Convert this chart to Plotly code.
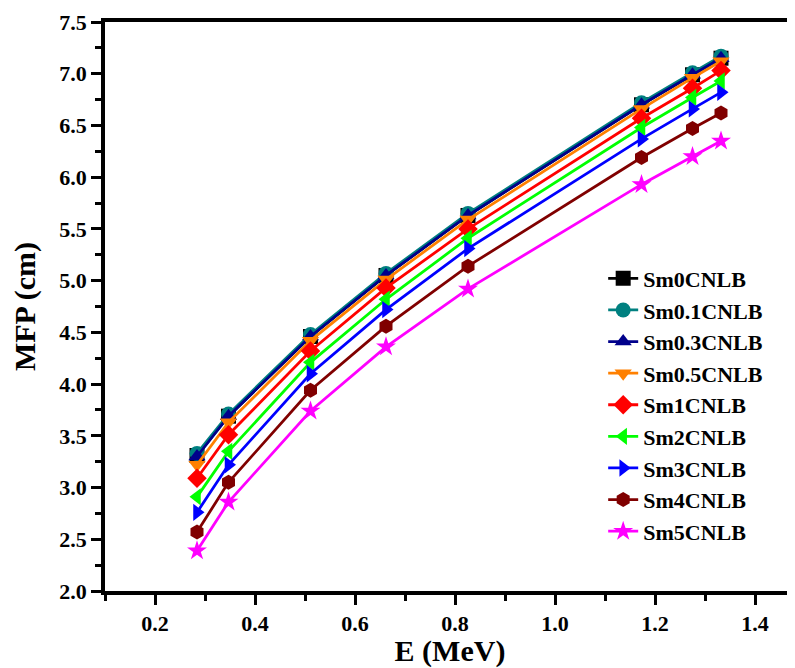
import plotly.graph_objects as go

energy = [0.284, 0.347, 0.511, 0.662, 0.826, 1.173, 1.275, 1.332]

names = ["Sm0CNLB", "Sm0.1CNLB", "Sm0.3CNLB", "Sm0.5CNLB", "Sm1CNLB",
         "Sm2CNLB", "Sm3CNLB", "Sm4CNLB", "Sm5CNLB"]

sm0 = [3.31, 3.69, 4.46, 5.05, 5.63, 6.70, 6.99, 7.15]
sm01 = [3.33, 3.71, 4.48, 5.07, 5.65, 6.72, 7.01, 7.17]
sm03 = [3.30, 3.69, 4.46, 5.05, 5.63, 6.70, 6.99, 7.15]
sm05 = [3.22, 3.63, 4.42, 5.01, 5.59, 6.66, 6.96, 7.12]
sm1 = [3.09, 3.51, 4.32, 4.93, 5.50, 6.57, 6.86, 7.03]
sm2 = [2.91, 3.35, 4.21, 4.82, 5.41, 6.48, 6.77, 6.93]
sm3 = [2.76, 3.22, 4.10, 4.72, 5.31, 6.37, 6.66, 6.82]
sm4 = [2.57, 3.05, 3.94, 4.56, 5.14, 6.19, 6.47, 6.62]
sm5 = [2.39, 2.86, 3.74, 4.36, 4.92, 5.93, 6.20, 6.35]

series = [sm0, sm01, sm03, sm05, sm1, sm2, sm3, sm4, sm5]
colors = ["#000000", "#008080", "#00008B", "#FF8000", "#FF0000",
          "#00FF00", "#0000FF", "#800000", "#FF00FF"]
symbols = ["square", "circle", "triangle-up", "triangle-down", "diamond",
           "triangle-left", "triangle-right", "hexagon", "star"]

font_family = "Liberation Serif"

fig = go.Figure()
for name, vals, c, s in zip(names, series, colors, symbols):
    fig.add_trace(go.Scatter(
        x=energy, y=vals, name=name, mode="lines+markers",
        line=dict(color=c, width=2.8),
        marker=dict(symbol=s, color=c, size=15, line=dict(width=0)),
    ))

fig.update_layout(
    width=787, height=660,
    margin=dict(l=97, r=0, t=14, b=77),
    paper_bgcolor="white", plot_bgcolor="white",
    font=dict(family=font_family, color="black"),
    showlegend=True,
    legend=dict(
        x=0.722, y=0.586, xanchor="left", yanchor="top",
        font=dict(family=font_family, size=22, color="black", weight="bold"),
        bgcolor="rgba(0,0,0,0)", borderwidth=0,
        tracegroupgap=0, itemwidth=30,
    ),
    xaxis=dict(
        range=[0.1, 1.48],
        showgrid=False, zeroline=False,
        showline=True, linewidth=3.5, linecolor="black", mirror=True,
        tickmode="linear", tick0=0.2, dtick=0.2,
        ticks="outside", ticklen=10, tickwidth=3, tickcolor="black",
        tickformat=".1f",
        tickfont=dict(family=font_family, size=22, color="black", weight="bold"),
        minor=dict(dtick=0.1, tick0=0.1, ticks="outside", ticklen=6, tickwidth=3, tickcolor="black"),
        title=dict(text="E (MeV)", standoff=8,
                   font=dict(family=font_family, size=30, color="black", weight="bold")),
    ),
    yaxis=dict(
        range=[2.0, 7.5],
        showgrid=False, zeroline=False,
        showline=True, linewidth=3.5, linecolor="black", mirror=False,
        tickmode="linear", tick0=2.0, dtick=0.5,
        ticks="outside", ticklen=10, tickwidth=3, tickcolor="black",
        tickformat=".1f",
        tickfont=dict(family=font_family, size=22, color="black", weight="bold"),
        minor=dict(dtick=0.25, tick0=2.0, ticks="outside", ticklen=6, tickwidth=3, tickcolor="black"),
        title=dict(text="MFP (cm)", standoff=18,
                   font=dict(family=font_family, size=30, color="black", weight="bold")),
    ),
)

fig.write_html("out.html")
